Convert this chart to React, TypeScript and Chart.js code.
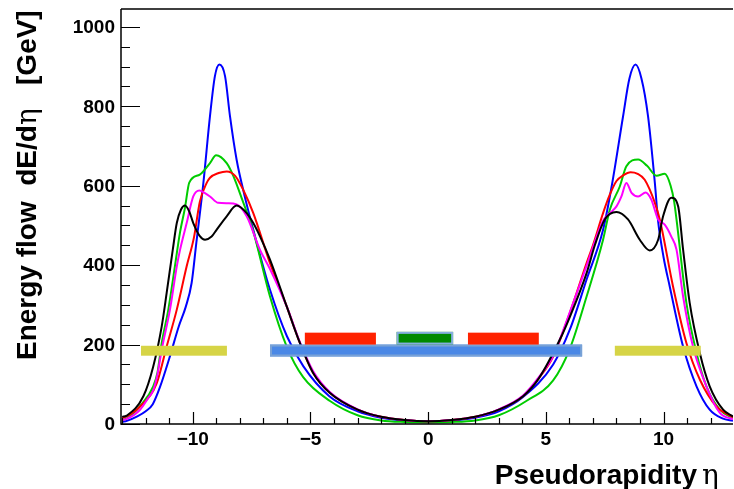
import React, { useEffect, useRef } from "react";
import { Chart, registerables } from "chart.js";

Chart.register(...registerables);

// ---- data ----
const blueEta = [-13, -12.8, -12.4, -12.0, -11.7, -11.4, -11.0, -10.6, -10.3, -10.05, -9.85, -9.55, -9.27, -9.06, -8.87, -8.63, -8.42, -8.14, -7.8, -7.43, -6.72, -6.0, -5.3, -4.2, -3.0, -2.0, -1.0, 0, 1.0, 2.0, 3.0, 4.03, 5.31, 6.02, 6.73, 7.43, 7.8, 8.28, 8.55, 8.81, 9.06, 9.34, 9.63, 9.77, 10.0, 10.26, 10.83, 11.4, 11.96, 12.5, 12.95];
const blueE = [5, 8, 18, 32, 50, 92, 165, 245, 295, 355, 456, 607, 775, 876, 905, 876, 775, 666, 575, 489, 338, 221, 145, 70, 32, 16, 9, 7, 9, 16, 32, 68, 150, 238, 364, 489, 600, 775, 870, 905, 870, 775, 607, 510, 420, 347, 195, 95, 36, 14, 8];

const greenEta = [-13, -12.8, -12.24, -11.68, -11.5, -11.32, -11.04, -10.76, -10.55, -10.33, -10.15, -9.7, -9.27, -9.01, -8.56, -8.28, -7.9, -7.43, -6.72, -6.01, -5.31, -4.17, -3, -2, -1, 0, 1, 2, 3, 4.17, 5.31, 6.02, 6.73, 7.43, 7.72, 8.14, 8.42, 8.92, 9.3, 9.7, 10.05, 10.3, 10.45, 10.55, 10.97, 11.4, 11.82, 12.39, 12.95];
const greenE = [10, 14, 45, 95, 130, 204, 288, 397, 480, 545, 608, 628, 657, 677, 657, 625, 565, 485, 321, 195, 118, 58, 22, 9, 5, 4, 5, 9, 22, 58, 110, 190, 321, 464, 540, 598, 649, 666, 650, 625, 630, 600, 560, 515, 305, 179, 95, 36, 15];

const redEta = [-13, -12.81, -12.24, -11.53, -11.11, -10.68, -10.26, -9.95, -9.7, -9.41, -9.27, -8.9, -8.56, -8.2, -7.86, -7.43, -6.72, -6.01, -5.45, -4.88, -4.17, -3, -2, -1, 0, 1, 2, 3, 4.03, 4.7, 5.31, 6.02, 6.73, 7.0, 7.43, 7.72, 8.0, 8.28, 8.6, 8.9, 9.2, 9.63, 9.84, 10.4, 10.97, 11.54, 12.25, 12.95];
const redE = [15, 19, 44, 103, 195, 288, 397, 470, 560, 607, 620, 632, 636, 625, 590, 531, 405, 296, 204, 128, 78, 36, 18, 10, 7, 10, 18, 36, 70, 115, 170, 280, 405, 450, 531, 578, 612, 626, 634, 630, 615, 557, 515, 347, 204, 112, 44, 17];

const magentaEta = [-13, -12.8, -12.24, -11.9, -11.68, -11.5, -11.32, -10.97, -10.68, -10.54, -10.26, -9.98, -9.72, -9.5, -9.27, -8.92, -8.5, -8.14, -7.71, -7.15, -6.72, -6.01, -5.45, -4.88, -4.17, -3, -2, -1, 0, 1, 2, 3, 4.03, 4.7, 5.31, 6.02, 6.73, 7.43, 7.72, 8.0, 8.21, 8.42, 8.64, 8.92, 9.24, 9.48, 9.77, 10.05, 10.33, 10.55, 10.83, 11.25, 11.82, 12.39, 12.95];
const magentaE = [10, 13, 36, 65, 85, 125, 187, 288, 397, 439, 506, 573, 588, 582, 573, 557, 556, 553, 523, 439, 390, 296, 206, 132, 80, 37, 18, 10, 7, 10, 18, 37, 72, 118, 172, 282, 398, 512, 531, 548, 573, 607, 582, 573, 583, 565, 515, 502, 472, 439, 321, 195, 95, 28, 12];

const blackEta = [-13, -12.81, -12.1, -11.68, -11.32, -11.11, -10.85, -10.68, -10.5, -10.33, -10.15, -9.98, -9.7, -9.48, -9.2, -8.99, -8.56, -8.14, -7.71, -7.43, -7.15, -6.72, -6.01, -5.45, -4.88, -4.17, -3, -2, -1, 0, 1, 2, 3, 4.03, 4.7, 5.59, 6.02, 6.73, 7.08, 7.5, 8.0, 8.49, 8.99, 9.41, 9.77, 9.98, 10.33, 10.62, 10.83, 11.11, 11.54, 11.96, 12.53, 12.95];
const blackE = [18, 21, 70, 145, 246, 330, 439, 506, 540, 550, 535, 506, 473, 464, 472, 489, 523, 550, 531, 506, 473, 414, 296, 204, 128, 78, 36, 18, 10, 7, 10, 18, 36, 70, 115, 212, 270, 380, 450, 515, 534, 515, 464, 437, 464, 523, 570, 548, 439, 305, 179, 95, 36, 19];

// detector acceptance bands: eta from, eta to, E low, E high
const bandFrom = [-12.2, 7.93, -6.72, -5.24, 1.69, -1.34];
const bandTo = [-8.55, 11.58, 6.54, -2.22, 4.7, 1.06];
const bandLow = [172, 172, 170, 200, 200, 200];
const bandHigh = [197, 197, 200, 230, 230, 232];
const bandFill = ["#d6d446", "#d6d446", "#4a88e6", "#ff2200", "#ff2200", "#008a00"];
const bandEdge = [null, null, "#79a2d6", null, null, "#86aee0"];

const xTickLabels = [-10, -5, 0, 5, 10];
const yTickLabels = [0, 200, 400, 600, 800, 1000];
const xTitle = "Pseudorapidity";
const yTitleParts = ["Energy flow  dE/d", "η", "   [GeV]"];

const toPts = (xs: number[], ys: number[]) => xs.map((x, i) => ({ x, y: ys[i] }));

const BOLD = "bold 28px 'Liberation Sans', Arial, sans-serif";
const SYM = "28px 'DejaVu Serif', 'Liberation Serif', serif";
const TICKF = "bold 19px 'Liberation Sans', Arial, sans-serif";

const fmt = (v: number) => (v < 0 ? "\u2212" + Math.abs(v) : String(v));

const decor = {
  id: "decor",
  afterDatasetsDraw(chart: any) {
    const { ctx } = chart;
    const xs = chart.scales.x;
    const ys = chart.scales.y;
    ctx.save();
    for (let i = 0; i < bandFrom.length; i++) {
      const x1 = xs.getPixelForValue(bandFrom[i]);
      const x2 = xs.getPixelForValue(bandTo[i]);
      const y1 = ys.getPixelForValue(bandHigh[i]);
      const y2 = ys.getPixelForValue(bandLow[i]);
      ctx.fillStyle = bandFill[i];
      ctx.fillRect(x1, y1, x2 - x1, y2 - y1);
      if (bandEdge[i]) {
        ctx.strokeStyle = bandEdge[i];
        ctx.lineWidth = 2;
        ctx.strokeRect(x1 + 1, y1 + 1, x2 - x1 - 2, y2 - y1 - 2);
      }
    }
    ctx.restore();
  },
  afterDraw(chart: any) {
    const { ctx, chartArea: a } = chart;
    const xs = chart.scales.x;
    const ys = chart.scales.y;
    ctx.save();
    // frame
    ctx.strokeStyle = "#000";
    ctx.lineWidth = 1.5;
    ctx.beginPath();
    ctx.moveTo(a.left, a.top);
    ctx.lineTo(a.right, a.top);
    ctx.moveTo(a.left, a.top);
    ctx.lineTo(a.left, a.bottom);
    ctx.lineTo(a.right, a.bottom);
    ctx.stroke();
    // x ticks
    ctx.lineWidth = 1.2;
    ctx.beginPath();
    for (let v = Math.ceil(xs.min); v <= Math.floor(xs.max); v++) {
      const px = Math.round(xs.getPixelForValue(v)) + 0.5;
      const len = v % 5 === 0 ? 12 : 6;
      ctx.moveTo(px, a.bottom);
      ctx.lineTo(px, a.bottom - len);
    }
    // y ticks
    for (let v = 0; v <= ys.max; v += 50) {
      const py = Math.round(ys.getPixelForValue(v)) + 0.5;
      const len = v % 200 === 0 ? 19 : 9;
      ctx.moveTo(a.left, py);
      ctx.lineTo(a.left + len, py);
    }
    ctx.stroke();
    // tick labels
    ctx.fillStyle = "#000";
    ctx.font = TICKF;
    ctx.textAlign = "center";
    ctx.textBaseline = "alphabetic";
    xTickLabels.forEach((v) => {
      ctx.fillText(fmt(v), xs.getPixelForValue(v), 445);
    });
    ctx.textAlign = "right";
    ctx.textBaseline = "middle";
    yTickLabels.forEach((v) => {
      ctx.fillText(fmt(v), a.left - 6, ys.getPixelForValue(v) + 1);
    });
    // x title
    ctx.textBaseline = "alphabetic";
    ctx.font = BOLD;
    ctx.textAlign = "right";
    ctx.fillText(xTitle, 697, 484);
    ctx.font = SYM;
    ctx.textAlign = "left";
    ctx.fillText("η", 702, 484);
    // y title
    ctx.translate(36, 360);
    ctx.rotate(-Math.PI / 2);
    let off = 0;
    yTitleParts.forEach((t, i) => {
      ctx.font = i === 1 ? SYM : BOLD;
      ctx.fillText(t, off, 0);
      off += ctx.measureText(t).width;
    });
    ctx.restore();
  },
};

export default function App() {
  const ref = useRef<HTMLCanvasElement | null>(null);
  useEffect(() => {
    document.body.style.margin = "0";
    const mk = (label: string, xs: number[], ys: number[], color: string) => ({
      label,
      data: toPts(xs, ys),
      borderColor: color,
      backgroundColor: color,
      borderWidth: 2,
      pointRadius: 0,
      cubicInterpolationMode: "monotone" as const,
      fill: false,
    });
    const chart = new Chart(ref.current as HTMLCanvasElement, {
      type: "line",
      data: {
        datasets: [
          mk("black", blackEta, blackE, "#000000"),
          mk("magenta", magentaEta, magentaE, "#ff00ff"),
          mk("red", redEta, redE, "#ff0000"),
          mk("green", greenEta, greenE, "#00cc00"),
          mk("blue", blueEta, blueE, "#0000ff"),
        ],
      },
      options: {
        responsive: false,
        animation: false,
        devicePixelRatio: 1,
        layout: { padding: { top: 9, right: 1, left: 0, bottom: 0 } },
        plugins: { legend: { display: false }, tooltip: { enabled: false } },
        scales: {
          x: {
            type: "linear",
            min: -13.05,
            max: 12.95,
            grid: { display: false },
            border: { display: false },
            ticks: { display: false },
            afterFit: (s: any) => {
              s.height = 65;
            },
          },
          y: {
            type: "linear",
            min: 0,
            max: 1045,
            grid: { display: false },
            border: { display: false },
            ticks: { display: false },
            afterFit: (s: any) => {
              s.width = 121;
            },
          },
        },
      },
      plugins: [decor],
    });
    return () => chart.destroy();
  }, []);
  return (
    <div style={{ position: "fixed", left: 0, top: 0, width: 734, height: 489, background: "#fff" }}>
      <canvas ref={ref} width={734} height={489} />
    </div>
  );
}
